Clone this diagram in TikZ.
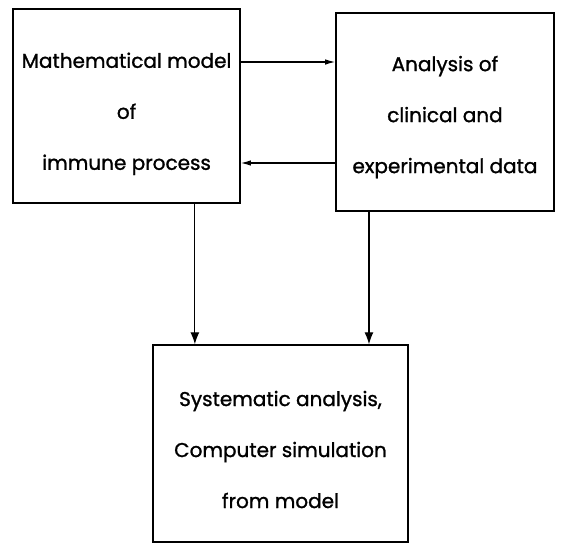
\documentclass[tikz,border=0pt]{standalone}
\usepackage{fontspec}
\newfontfamily\blockfont{Poppins}[FakeBold=1.2]
\usetikzlibrary{arrows.meta}

\begin{document}
\begin{tikzpicture}[
    block/.style={draw, line width=1.5pt},
    caption/.style={align=center, inner sep=0pt, font=\blockfont\fontsize{20}{51}\selectfont},
    flow/.style={-{Latex[length=10pt, width=5.5pt]}, line width=1.2pt},
    drop/.style={-{Latex[length=12pt, width=9pt]}, line width=1.2pt}
]
    \useasboundingbox (0,0) rectangle (19.79,19.12);

    % Model block
    \node[block, minimum width=7.98cm, minimum height=6.82cm] (model) at (4.45,15.40) {};
    \node[caption] (modeltext) at ([yshift=-8pt]model) {Mathematical model\\of\\immune process};

    % Data block
    \node[block, minimum width=7.66cm, minimum height=6.96cm] (data) at (15.64,15.18) {};
    \node[caption] (datatext) at ([yshift=-5pt]data) {Analysis of\\clinical and\\experimental data};

    % Simulation block
    \node[block, minimum width=8.96cm, minimum height=6.92cm] (sim) at (9.86,3.53) {};
    \node[caption] (simtext) at ([yshift=-6pt]sim) {Systematic analysis,\\Computer simulation\\from model};

    % Connections between model and data
    \coordinate (upper) at (0,16.94);
    \coordinate (lower) at (0,13.39);
    \draw[flow] (model.east |- upper) -- (data.west |- upper);
    \draw[flow] (data.west |- lower) -- (model.east |- lower);

    % Arrows down to the simulation
    \coordinate (left) at (6.85,0);
    \coordinate (right) at (12.97,0);
    \draw[drop] (model.south -| left) -- (sim.north -| left);
    \draw[drop] (data.south -| right) -- (sim.north -| right);
\end{tikzpicture}
\end{document}
